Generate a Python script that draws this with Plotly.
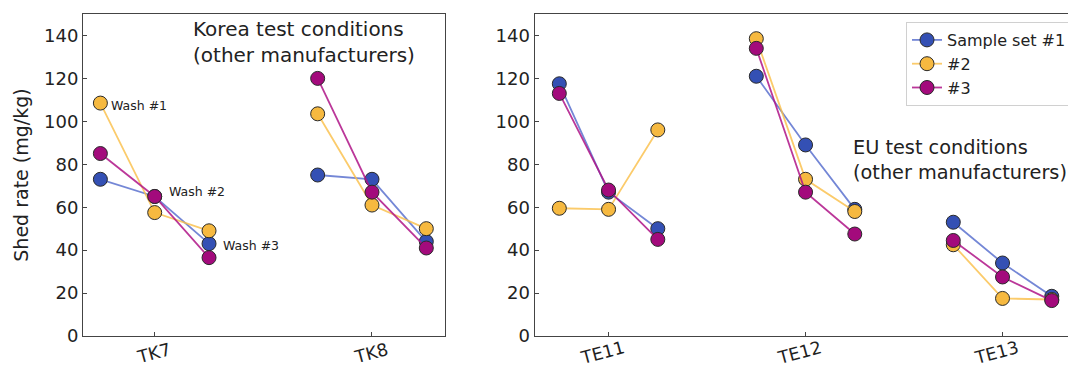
import plotly.graph_objects as go

# ---------------- data ----------------
left_categories = ["TK7", "TK8"]
right_categories = ["TE11", "TE12", "TE13"]
wash_labels = ["Wash #1", "Wash #2", "Wash #3"]
series_names = ["Sample set #1", "#2", "#3"]

# values per category: [wash1, wash2, wash3]
set1_left = [[73, 65, 43], [75, 73, 44]]
set2_left = [[108.5, 57.5, 49], [103.5, 61, 50]]
set3_left = [[85, 65, 36.5], [120, 67, 41]]

set1_right = [[117.5, 67, 50], [121, 89, 59], [53, 34, 18.5]]
set2_right = [[59.5, 59, 96], [138.5, 73, 58], [42.5, 17.5, 17]]
set3_right = [[113, 68, 45], [134, 67, 47.5], [44.5, 27.5, 16.5]]

y_ticks = [0, 20, 40, 60, 80, 100, 120, 140]

# ---------------- style ----------------
marker_colors = ["#3450b4", "#f6b940", "#a30a7c"]
line_colors = ["rgba(70,95,200,0.75)", "rgba(250,190,70,0.8)", "rgba(175,20,135,0.85)"]
FONT = "DejaVu Sans"
wash_offset = [-0.25, 0.0, 0.25]

fig = go.Figure()


def add_series(values_by_cat, idx, xaxis, yaxis, showlegend):
    xs, ys = [], []
    for ci, vals in enumerate(values_by_cat):
        for wi, v in enumerate(vals):
            xs.append(ci + wash_offset[wi])
            ys.append(v)
        xs.append(None)
        ys.append(None)
    fig.add_trace(go.Scatter(
        x=xs, y=ys, mode="lines+markers", name=series_names[idx],
        xaxis=xaxis, yaxis=yaxis, showlegend=showlegend,
        line=dict(color=line_colors[idx], width=1.8),
        marker=dict(color=marker_colors[idx], size=14,
                    line=dict(color="#2a2a2a", width=1)),
        connectgaps=False,
    ))


for i, s in enumerate([set1_left, set2_left, set3_left]):
    add_series(s, i, "x", "y", False)
for i, s in enumerate([set1_right, set2_right, set3_right]):
    add_series(s, i, "x2", "y2", True)

# the page body has an 8px default margin -> shrink figure accordingly
OFF = 8
W, H = 1076 - OFF, 368 - OFF
ml, mr, mt, mb = 83 - OFF, 0, 14 - OFF, 368 - 336
pw = W - ml - mr
ph = H - mt - mb


def px_x(p):  # p: pixel x in the screenshot
    return (p - OFF - ml) / pw


def px_y(p):  # p: pixel y in the screenshot
    return 1 - (p - OFF - mt) / ph


axis_common = dict(showline=True, linecolor="#444", linewidth=1, showgrid=False,
                   zeroline=False, ticks="inside", ticklen=4, tickcolor="#444",
                   automargin=False,
                   tickfont=dict(family=FONT, size=18, color="#222"))
xaxis_extra = dict(tickangle=-15, ticklabelshift=15,
                   tickfont=dict(family=FONT, size=17.5, color="#222"))

fig.update_layout(
    width=W, height=H,
    margin=dict(l=ml, r=mr, t=mt, b=mb),
    plot_bgcolor="white", paper_bgcolor="white",
    font=dict(family=FONT, color="#222"),
    xaxis=dict(axis_common, **xaxis_extra, ticklabelstandoff=-3,
               domain=[0, px_x(445)], range=[-0.33, 1.336],
               tickvals=list(range(len(left_categories))), ticktext=left_categories,
               mirror=True, anchor="y"),
    yaxis=dict(axis_common, range=[0, 150], tickvals=y_ticks, mirror=True, anchor="x",
               title=dict(text="Shed rate (mg/kg)", font=dict(family=FONT, size=19, color="#222"),
                          standoff=10)),
    xaxis2=dict(axis_common, **xaxis_extra, ticklabelstandoff=-5,
                domain=[px_x(534.5), 1], range=[-0.376, 2.373],
                tickvals=list(range(len(right_categories))), ticktext=right_categories,
                mirror=True, anchor="y2"),
    yaxis2=dict(axis_common, range=[0, 150], tickvals=y_ticks, mirror=False, anchor="x2"),
    legend=dict(x=px_x(906), y=px_y(22), xanchor="left", yanchor="top",
                bgcolor="white", bordercolor="#d0d0d0", borderwidth=1,
                font=dict(family=FONT, size=16, color="#222"),
                tracegroupgap=0, itemwidth=30),
    showlegend=True,
)

annotations = [
    dict(text="Korea test conditions<br>(other manufacturers)", xref="paper", yref="paper",
         x=px_x(191), y=px_y(15), xanchor="left", yanchor="top", align="left",
         showarrow=False, font=dict(family=FONT, size=20, color="#222")),
    dict(text="EU test conditions<br>(other manufacturers)", xref="paper", yref="paper",
         x=px_x(851), y=px_y(134), xanchor="left", yanchor="top", align="left",
         showarrow=False, font=dict(family=FONT, size=19.3, color="#222")),
    dict(text=wash_labels[0], xref="x", yref="y", x=wash_offset[0], y=set2_left[0][0],
         xanchor="left", yanchor="middle", xshift=9, yshift=-2, showarrow=False,
         font=dict(family=FONT, size=12.5, color="#222")),
    dict(text=wash_labels[1], xref="x", yref="y", x=wash_offset[1], y=set3_left[0][1],
         xanchor="left", yanchor="middle", xshift=12, yshift=5, showarrow=False,
         font=dict(family=FONT, size=12.5, color="#222")),
    dict(text=wash_labels[2], xref="x", yref="y", x=wash_offset[2], y=set1_left[0][2],
         xanchor="left", yanchor="middle", xshift=12, yshift=-1.5, showarrow=False,
         font=dict(family=FONT, size=12.5, color="#222")),
]
fig.update_layout(annotations=annotations)

fig.write_html("out.html")
